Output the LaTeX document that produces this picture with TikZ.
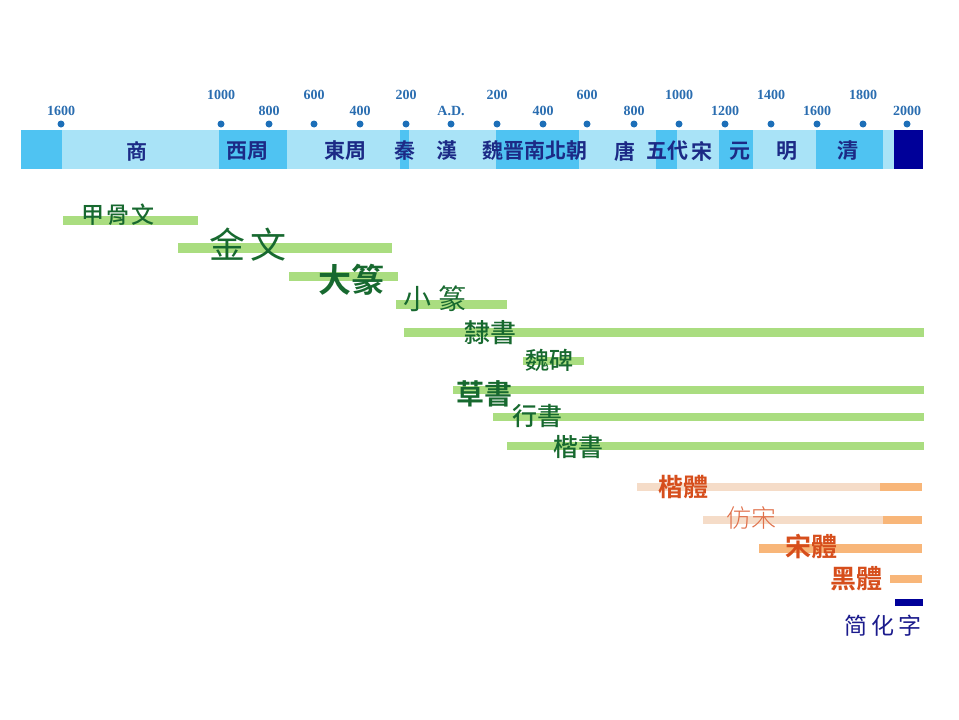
\documentclass[tikz,border=0pt]{standalone}
\usepackage{fontspec}
\setmainfont{Liberation Serif}
\newfontfamily\tcr{Noto Sans CJK TC}
\newfontfamily\tcb{Noto Sans CJK TC Bold}
\newfontfamily\tcm{Noto Sans CJK TC Medium}
\newfontfamily\tcl{Noto Sans CJK TC Light}
\newfontfamily\scr{Noto Sans CJK SC}
\definecolor{lblue}{HTML}{A9E3F7}
\definecolor{mblue}{HTML}{4FC3F2}
\definecolor{dnavy}{HTML}{000099}
\definecolor{dotblue}{HTML}{1D6FB8}
\definecolor{numblue}{HTML}{2A6DB0}
\definecolor{perblue}{HTML}{1C2A86}
\definecolor{gbar}{HTML}{AADD80}
\definecolor{gtext}{HTML}{17692F}
\definecolor{obarl}{HTML}{F5DCC8}
\definecolor{obar}{HTML}{F8B679}
\definecolor{otext}{HTML}{D64E1C}
\definecolor{otextl}{HTML}{E0704A}
\definecolor{sblue}{HTML}{1A1A8C}
\tikzset{
  seg/.style={fill=#1, draw=none},
  dotm/.style={circle, fill=dotblue, inner sep=0pt, minimum size=7pt},
  yr/.style={font=\fontsize{14}{14}\selectfont\bfseries, text=numblue, inner sep=0pt},
  per/.style={font=\tcb\fontsize{21}{21}\selectfont, text=perblue, inner sep=0pt},
  gb/.style={fill=gbar, draw=none},
  gt/.style={text=gtext, inner sep=0pt},
  ot/.style={text=otext, inner sep=0pt},
}
\begin{document}
\begin{tikzpicture}[x=1pt,y=-1pt]
\useasboundingbox (0,0) rectangle (959,720);
% top period bar
\foreach \a/\b/\c [count=\i] in {21/62/mblue,62/219/lblue,219/287/mblue,287/400/lblue,400/409/mblue,409/496/lblue,496/579/mblue,579/656/lblue,656/677/mblue,677/719/lblue,719/753/mblue,753/816/lblue,816/883/mblue,883/894/lblue,894/923/dnavy}
  \fill[seg=\c] (\a,130) rectangle (\b,169);
% dots
\foreach \x [count=\i] in {61,221,269,314,360,406,451,497,543,587,634,679,725,771,817,863,907}
  \node[dotm] (d\i) at (\x,124) {};
% year labels
\node[yr] (y1) at (61,111) {1600};
\node[yr] (y2) at (221,95) {1000};
\node[yr] (y3) at (269,111) {800};
\node[yr] (y4) at (314,95) {600};
\node[yr] (y5) at (360,111) {400};
\node[yr] (y6) at (406,95) {200};
\node[yr] (y7) at (451,111) {A.D.};
\node[yr] (y8) at (497,95) {200};
\node[yr] (y9) at (543,111) {400};
\node[yr] (y10) at (587,95) {600};
\node[yr] (y11) at (634,111) {800};
\node[yr] (y12) at (679,95) {1000};
\node[yr] (y13) at (725,111) {1200};
\node[yr] (y14) at (771,95) {1400};
\node[yr] (y15) at (817,111) {1600};
\node[yr] (y16) at (863,95) {1800};
\node[yr] (y17) at (907,111) {2000};
% period labels
\node[per] (p1) at (137,151) {商};
\node[per] (p2) at (247,151) {西周};
\node[per] (p3) at (345,151) {東周};
\node[per] (p4) at (405,151) {秦};
\node[per] (p5) at (447,151) {漢};
\node[per] (p6) at (535,151) {魏晋南北朝};
\node[per] (p7) at (625,151) {唐};
\node[per] (p8) at (667,151) {五代};
\node[per] (p9) at (702,151) {宋};
\node[per] (p10) at (740,151) {元};
\node[per] (p11) at (787,151) {明};
\node[per] (p12) at (848,151) {清};
% green bars
\fill[gb] (63,216) rectangle (198,225);
\fill[gb] (178,243) rectangle (392,253);
\fill[gb] (289,272) rectangle (398,281);
\fill[gb] (396,300) rectangle (507,309);
\fill[gb] (404,328) rectangle (924,337);
\fill[gb] (523,357) rectangle (584,365);
\fill[gb] (453,386) rectangle (924,394);
\fill[gb] (493,413) rectangle (924,421);
\fill[gb] (507,442) rectangle (924,450);
% orange bars
\fill[obarl] (637,483) rectangle (880,491);
\fill[obar] (880,483) rectangle (922,491);
\fill[obarl] (703,516) rectangle (883,524);
\fill[obar] (883,516) rectangle (922,524);
\fill[obar] (759,544) rectangle (922,553);
\fill[obar] (890,575) rectangle (922,583);
\fill[dnavy] (895,599) rectangle (923,606);
% green script labels
\node[gt, font=\tcm\fontsize{23}{23}\selectfont] (s1) at (118,215) {甲\hspace{2pt}骨\hspace{2pt}文};
\node[gt, font=\tcr\fontsize{36}{36}\selectfont] (s2) at (248,245) {金\hspace{6pt}文};
\node[gt, font=\tcb\fontsize{33}{33}\selectfont] (s3) at (351,280) {大篆};
\node[gt, font=\tcr\fontsize{28}{28}\selectfont] (s4) at (435,299) {小\hspace{8pt}篆};
\node[gt, font=\tcm\fontsize{26}{26}\selectfont] (s5) at (490,333) {隸書};
\node[gt, font=\tcm\fontsize{24}{24}\selectfont] (s6) at (549,360) {魏碑};
\node[gt, font=\tcb\fontsize{28}{28}\selectfont] (s7) at (484,394) {草書};
\node[gt, font=\tcm\fontsize{25}{25}\selectfont] (s8) at (537,416) {行書};
\node[gt, font=\tcm\fontsize{25}{25}\selectfont] (s9) at (578,447) {楷書};
% orange labels
\node[ot, font=\tcb\fontsize{25}{25}\selectfont] (t1) at (683,487) {楷體};
\node[inner sep=0pt, text=otextl, font=\tcl\fontsize{25}{25}\selectfont] (t2) at (751,518) {仿宋};
\node[ot, font=\tcb\fontsize{26}{26}\selectfont] (t3) at (811,547) {宋體};
\node[ot, font=\tcb\fontsize{26}{26}\selectfont] (t4) at (856,579) {黑體};
\node[inner sep=0pt, text=sblue, font=\scr\fontsize{23}{23}\selectfont] (t5) at (883,626) {简\hspace{4pt}化\hspace{4pt}字};
\end{tikzpicture}
\end{document}
